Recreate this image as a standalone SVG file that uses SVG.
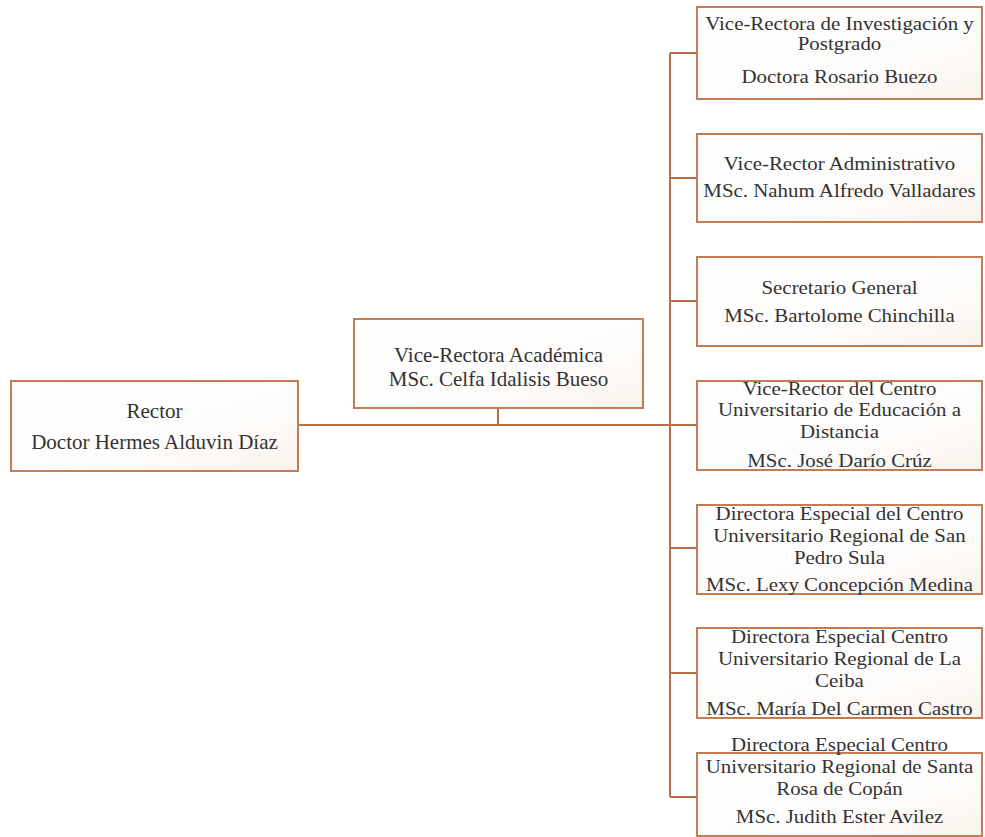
<svg xmlns="http://www.w3.org/2000/svg" width="985" height="837" viewBox="0 0 985 837">
  <defs>
    <linearGradient id="boxfill" x1="0" y1="0" x2="1" y2="1">
      <stop offset="0" stop-color="#ffffff"/>
      <stop offset="0.6" stop-color="#fdfcfb"/>
      <stop offset="1" stop-color="#fbf3ec"/>
    </linearGradient>
  </defs>
  <style>
    .box { fill: url(#boxfill); stroke: #c47c55; stroke-width: 2; }
    .conn { fill: none; stroke: #b8704a; stroke-width: 2; }
    .t { font-family: "Liberation Serif", "Times New Roman", serif; font-size: 21px; fill: #333333; text-anchor: middle; }
    .r { font-family: "Liberation Serif", "Times New Roman", serif; font-size: 19px; fill: #333333; text-anchor: middle; }
  </style>
  <rect width="985" height="837" fill="#ffffff"/>

  <g id="connectors">
    <path class="conn" d="M298,425 H697"/>
    <path class="conn" d="M498,408 V425"/>
    <path class="conn" d="M670,53 V797"/>
    <path class="conn" d="M670,53 H697"/>
    <path class="conn" d="M670,178 H697"/>
    <path class="conn" d="M670,301 H697"/>
    <path class="conn" d="M670,548 H697"/>
    <path class="conn" d="M670,673 H697"/>
    <path class="conn" d="M670,797 H697"/>
  </g>

  <g id="rector">
    <rect class="box" x="11" y="381" width="287" height="90"/>
    <text class="t" x="154.5" y="418">Rector</text>
    <text class="t" x="154.5" y="449">Doctor Hermes Alduvin Díaz</text>
  </g>

  <g id="vr-academica">
    <rect class="box" x="354" y="319" width="289" height="89"/>
    <text class="t" x="498.5" y="362">Vice-Rectora Académica</text>
    <text class="t" x="498.5" y="386">MSc. Celfa Idalisis Bueso</text>
  </g>

  <g id="vr-investigacion">
    <rect class="box" x="697" y="7" width="285" height="92"/>
    <g transform="translate(839.5,0) scale(1.1,1) translate(-839.5,0)">
      <text class="r" x="839.5" y="30">Vice-Rectora de Investigación y</text>
      <text class="r" x="839.5" y="50">Postgrado</text>
      <text class="r" x="839.5" y="83">Doctora Rosario Buezo</text>
    </g>
  </g>

  <g id="vr-administrativo">
    <rect class="box" x="697" y="134" width="285" height="88"/>
    <g transform="translate(839.5,0) scale(1.1,1) translate(-839.5,0)">
      <text class="r" x="839.5" y="170">Vice-Rector Administrativo</text>
      <text class="r" x="839.5" y="197">MSc. Nahum Alfredo Valladares</text>
    </g>
  </g>

  <g id="secretario">
    <rect class="box" x="697" y="257" width="285" height="89"/>
    <g transform="translate(839.5,0) scale(1.1,1) translate(-839.5,0)">
      <text class="r" x="839.5" y="294">Secretario General</text>
      <text class="r" x="839.5" y="322">MSc. Bartolome Chinchilla</text>
    </g>
  </g>

  <g id="vr-distancia">
    <rect class="box" x="697" y="381" width="285" height="89"/>
    <g transform="translate(839.5,0) scale(1.1,1) translate(-839.5,0)">
      <text class="r" x="839.5" y="395">Vice-Rector del Centro</text>
      <text class="r" x="839.5" y="416">Universitario de Educación a</text>
      <text class="r" x="839.5" y="438">Distancia</text>
      <text class="r" x="839.5" y="467">MSc. José Darío Crúz</text>
    </g>
  </g>

  <g id="dir-sps">
    <rect class="box" x="697" y="505" width="285" height="89"/>
    <g transform="translate(839.5,0) scale(1.1,1) translate(-839.5,0)">
      <text class="r" x="839.5" y="520">Directora Especial del Centro</text>
      <text class="r" x="839.5" y="542">Universitario Regional de San</text>
      <text class="r" x="839.5" y="564">Pedro Sula</text>
      <text class="r" x="839.5" y="591">MSc. Lexy Concepción Medina</text>
    </g>
  </g>

  <g id="dir-ceiba">
    <rect class="box" x="697" y="628" width="285" height="90"/>
    <g transform="translate(839.5,0) scale(1.1,1) translate(-839.5,0)">
      <text class="r" x="839.5" y="643">Directora Especial Centro</text>
      <text class="r" x="839.5" y="665">Universitario Regional de La</text>
      <text class="r" x="839.5" y="687">Ceiba</text>
      <text class="r" x="839.5" y="715">MSc. María Del Carmen Castro</text>
    </g>
  </g>

  <g id="dir-copan">
    <rect class="box" x="697" y="753" width="285" height="83"/>
    <g transform="translate(839.5,0) scale(1.1,1) translate(-839.5,0)">
      <text class="r" x="839.5" y="751">Directora Especial Centro</text>
      <text class="r" x="839.5" y="773">Universitario Regional de Santa</text>
      <text class="r" x="839.5" y="795">Rosa de Copán</text>
      <text class="r" x="839.5" y="823">MSc. Judith Ester Avilez</text>
    </g>
  </g>
</svg>
